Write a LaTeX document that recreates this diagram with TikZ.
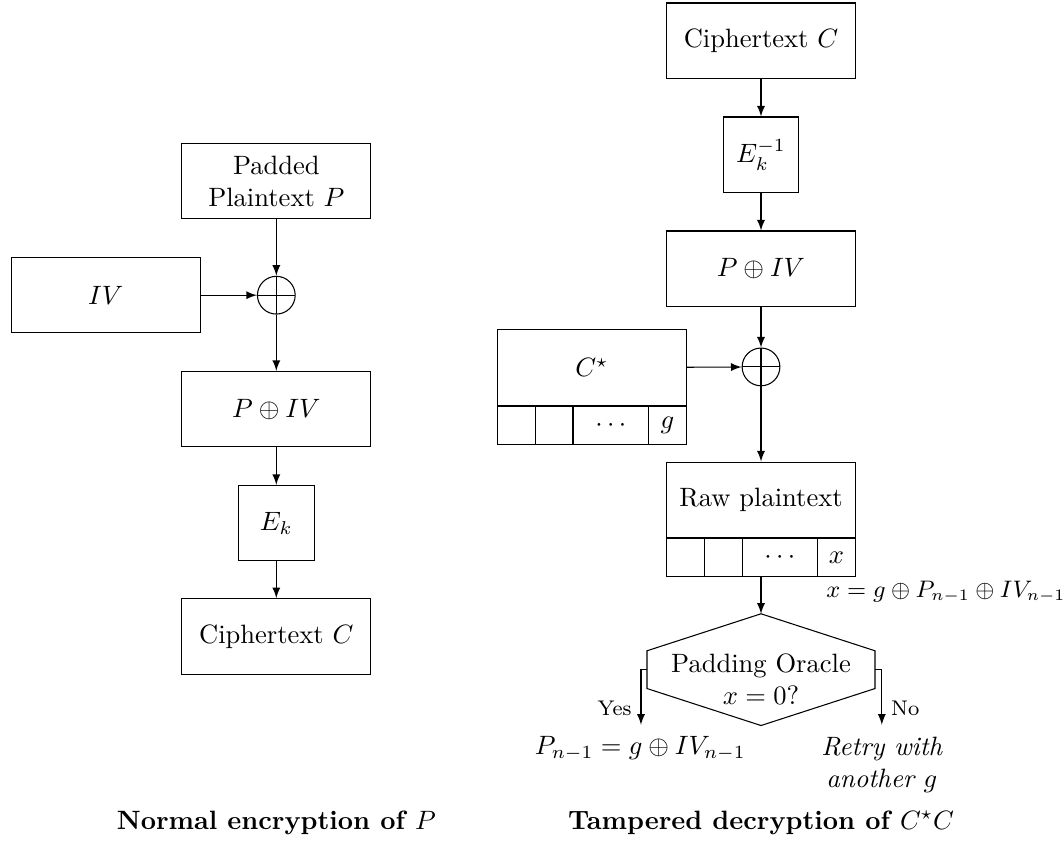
\documentclass[tikz,border=0pt]{standalone}
\usetikzlibrary{calc,positioning}
\tikzset{
	block/.style={draw, rectangle, minimum width=2.5cm, minimum height=1cm, align=center},
	keybox/.style={draw, rectangle, minimum width=1cm, minimum height=1cm},
	cell/.style={draw, rectangle, minimum height=0.5cm, inner sep=0pt, anchor=north west},
	xorgate/.style={draw, circle, minimum size=0.5cm, inner sep=0pt,
		path picture={\draw (path picture bounding box.north) -- (path picture bounding box.south)
			(path picture bounding box.west) -- (path picture bounding box.east);}},
	arr/.style={-latex},
}
\begin{document}
\begin{tikzpicture}
	\useasboundingbox (0,0) rectangle (14.08,-11.17);
	\node[block] (padded) at (3.66,-2.40) {Padded\\Plaintext $P$};
	\node[xorgate] (xorA) at (3.66,-3.91) {};
	\node[block] (iv) at (1.40,-3.91) {$IV$};
	\node[block] (pivA) at (3.66,-5.42) {$P \oplus IV$};
	\node[keybox] (ek) at (3.66,-6.93) {$E_k$};
	\node[block] (ctA) at (3.66,-8.43) {Ciphertext $C$};
	\node[font=\bfseries] (capA) at (3.66,-10.90) {Normal encryption of $P$};
	\draw[arr] (padded) -- (xorA);
	\draw[arr] (iv) -- (xorA);
	\draw[arr] (xorA) -- (pivA);
	\draw[arr] (pivA) -- (ek);
	\draw[arr] (ek) -- (ctA);

	\node[block] (ctB) at (10.08,-0.54) {Ciphertext $C$};
	\node[keybox] (ekinv) at (10.08,-2.05) {$E_k^{-1}$};
	\node[block] (pivB) at (10.08,-3.56) {$P \oplus IV$};
	\node[xorgate] (xorB) at (10.08,-4.86) {};
	\node[block] (cstar) at (7.84,-4.87) {$C^\star$};
	\foreach \i/\a/\w/\t in {1/0/0.5/{}, 2/0.5/0.5/{}, 3/1/1/{$\cdots$}, 4/2/0.5/{$g$}}{
		\node[cell, minimum width=\w cm] (c\i) at ($(cstar.south west)+(\a,0)$) {\t};
	};
	\node[block] (raw) at (10.08,-6.62) {Raw plaintext};
	\foreach \i/\a/\w/\t in {1/0/0.5/{}, 2/0.5/0.5/{}, 3/1/1/{$\cdots$}, 4/2/0.5/{$x$}}{
		\node[cell, minimum width=\w cm] (r\i) at ($(raw.south west)+(\a,0)$) {\t};
	};
	\node[font=\small] (xeq) at (12.53,-7.84) {$x = g \oplus P_{n-1} \oplus IV_{n-1}$};
	\coordinate (hc) at (10.08,-8.87);
	\draw ($(hc)+(0,0.74)$) -- ++(1.51,-0.49) -- ++(0,-0.5) -- ++(-1.51,-0.49)
		-- ++(-1.51,0.49) -- ++(0,0.5) -- cycle;
	\node[align=center] (oracle) at (10.08,-9.0) {Padding Oracle\\$x = 0?$};
	\coordinate (hl) at ($(hc)+(-1.51,0)$);
	\coordinate (hr) at ($(hc)+(1.51,0)$);
	\coordinate (yesend) at (8.49,-9.60);
	\coordinate (noend) at (11.68,-9.60);
	\node (pn) at (8.48,-9.91) {$P_{n-1} = g \oplus IV_{n-1}$};
	\node[align=center, font=\itshape] (retry) at (11.68,-10.13) {Retry with\\another $g$};
	\node[font=\bfseries] (capB) at (10.08,-10.90) {Tampered decryption of $C^\star C$};
	\draw[arr] (ctB) -- (ekinv);
	\draw[arr] (ekinv) -- (pivB);
	\draw[arr] (pivB) -- (xorB);
	\draw[arr] (cstar) -- (xorB);
	\draw[arr] (xorB) -- (raw);
	\draw[arr] (hc |- r3.south) -- ($(hc)+(0,0.74)$);
	\draw[arr] (hl) -| node[pos=0.85, left, font=\footnotesize] {Yes} (yesend);
	\draw[arr] (hr) -| node[pos=0.85, right, font=\footnotesize] {No} (noend);
\end{tikzpicture}
\end{document}
